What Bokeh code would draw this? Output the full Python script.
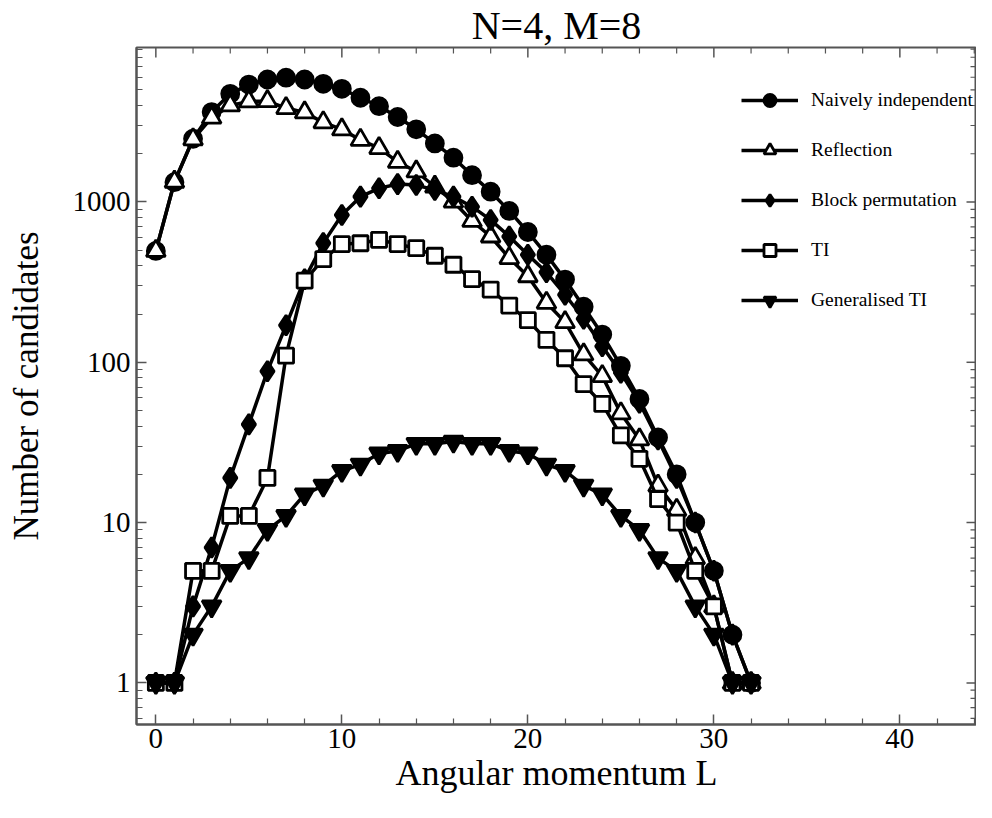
from math import pi
from bokeh.plotting import figure
from bokeh.models import FixedTicker, LinearAxis, LogAxis, Legend, LegendItem, Range1d, PrintfTickFormatter
from bokeh.embed import file_html
from bokeh.resources import INLINE

L = list(range(33))
naive = [495, 1330, 2480, 3640, 4730, 5400, 5810, 5960, 5810, 5460, 5080, 4470, 3960, 3390,
         2840, 2320, 1890, 1470, 1160, 880, 650, 469, 328, 222, 149, 95, 59, 34, 20, 10, 5, 2, 1]
reflection = [495, 1337, 2460, 3356, 4000, 4240, 4256, 3855, 3620, 3140, 2835, 2440, 2170, 1780,
              1550, 1245, 1004, 762, 609, 447, 344, 235, 178, 112, 82, 48, 33, 17, 12, 6, 3, 1, 1]
block = [1, 1, 3, 7, 19, 41, 88, 170, 330, 554, 830, 1080, 1217, 1293, 1275, 1188, 1080, 935,
         773, 610, 469, 364, 264, 187, 126, 86, 56, 33, 19, 10, 5, 2, 1]
ti = [1, 1, 5, 5, 11, 11, 19, 110, 323, 440, 546, 553, 581, 546, 515, 462, 406, 330, 284, 226,
      183, 138, 106, 73, 55, 35, 25, 14, 10, 5, 3, 1, 1]
gti = [1, 1, 2, 3, 5, 6, 9, 11, 15, 17, 21, 23, 27, 28, 31, 31, 32, 31, 31, 28, 27, 23, 21, 17,
       15, 11, 9, 6, 5, 3, 2, 1, 1]

names = ["Naively independent", "Reflection", "Block permutation", "TI", "Generalised TI"]
series = [naive, reflection, block, ti, gti]
markers = ["circle", "triangle", "diamond", "square", "inverted_triangle"]
fills = ["black", "white", "black", "white", "black"]
sizes = [17, 19, 20, 15, 19]

x_major = [0, 10, 20, 30, 40]
x_minor = [v for v in range(2, 46, 2) if v % 10 != 0]
y_major = [1, 10, 100, 1000]
y_minor = [round(m * d, 1) for d in [0.1, 1, 10, 100, 1000] for m in range(2, 10)]
y_minor = [v for v in y_minor if 0.5 < v < 9500]

X0, X1 = -1.04, 44.12
Y0, Y1 = 0.55, 9200

FONT = "Liberation Serif"
AX = "#555555"

p = figure(width=976, height=802, y_axis_type="log",
           x_range=Range1d(X0, X1), y_range=Range1d(Y0, Y1),
           output_backend="svg", toolbar_location=None,
           min_border_left=136, min_border_right=0, min_border_top=44, min_border_bottom=78,
           x_axis_location=None, y_axis_location=None)
p.xgrid.grid_line_color = None
p.ygrid.grid_line_color = None
p.outline_line_color = AX
p.outline_line_width = 2
p.background_fill_color = "white"

p.title.text = "N=4, M=8"
p.title.text_font = FONT
p.title.text_font_size = "40px"
p.title.text_font_style = "normal"
p.title.text_color = "black"
p.title.align = "center"
p.title.standoff = 0


def style_axis(ax):
    ax.axis_line_color = AX
    ax.axis_line_width = 2
    ax.major_tick_line_color = AX
    ax.minor_tick_line_color = AX
    ax.major_tick_line_width = 1.5
    ax.minor_tick_line_width = 1.2
    ax.major_tick_in = 10
    ax.major_tick_out = 0
    ax.minor_tick_in = 6
    ax.minor_tick_out = 0
    ax.major_label_text_font = FONT
    ax.major_label_text_font_size = "29px"
    ax.major_label_text_color = "black"
    ax.axis_label_text_font = FONT
    ax.axis_label_text_font_style = "normal"
    ax.axis_label_text_color = "black"


bottom = LinearAxis(ticker=FixedTicker(ticks=x_major, minor_ticks=x_minor),
                    axis_label="Angular momentum L")
style_axis(bottom)
bottom.axis_label_text_font_size = "36px"
bottom.major_label_standoff = 4
bottom.axis_label_standoff = 2
left = LogAxis(ticker=FixedTicker(ticks=y_major, minor_ticks=y_minor),
               axis_label="Number of candidates", formatter=PrintfTickFormatter(format="%d"))
style_axis(left)
left.axis_label_text_font_size = "35px"
left.major_label_standoff = 6
left.axis_label_standoff = 24
p.add_layout(bottom, "below")
p.add_layout(left, "left")

# mirrored ticks on the top and right frame edges
p.scatter(x_major, [Y1] * len(x_major), marker="dash", angle=pi / 2, size=20,
          line_color=AX, line_width=1.5)
p.scatter(x_minor, [Y1] * len(x_minor), marker="dash", angle=pi / 2, size=12,
          line_color=AX, line_width=1.2)
p.scatter([X1] * len(y_major), y_major, marker="dash", size=20, line_color=AX, line_width=1.5)
p.scatter([X1] * len(y_minor), y_minor, marker="dash", size=12, line_color=AX, line_width=1.2)

items = []
for name, ys, mk, fc, sz in zip(names, series, markers, fills, sizes):
    lr = p.line(L, ys, line_color="black", line_width=3.5)
    sr = p.scatter(L, ys, marker=mk, size=sz, fill_color=fc, line_color="black", line_width=2.8)
    items.append(LegendItem(label=name, renderers=[lr, sr]))

legend = Legend(items=items, location=(605, 409), border_line_color=None,
                background_fill_alpha=0, label_text_font=FONT, label_text_font_size="19.5px",
                label_text_color="black",
                glyph_width=57, glyph_height=30, label_height=30, spacing=20, padding=10,
                label_standoff=13, margin=0)
p.add_layout(legend)

open("out.html", "w").write(file_html(p, INLINE))
